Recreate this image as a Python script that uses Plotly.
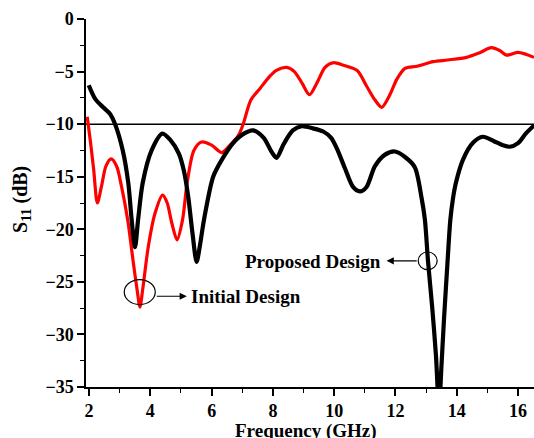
import plotly.graph_objects as go

# ---- data ----
freq_proposed = [1.99, 2.2, 2.46, 2.68, 2.85, 3.1, 3.28, 3.39, 3.5, 3.6, 3.75, 4.04, 4.39, 4.65, 4.93,
                 5.1, 5.24, 5.38, 5.51, 5.62, 5.75, 6.05, 6.33, 6.7, 7.0, 7.36, 7.7, 7.95, 8.12, 8.35,
                 8.65, 8.94, 9.3, 9.64, 9.9, 10.1, 10.35, 10.62, 10.84, 11.05, 11.33, 11.66, 11.98,
                 12.3, 12.63, 12.85, 12.96, 13.06, 13.2, 13.32, 13.42, 13.5, 13.58, 13.7, 13.79,
                 13.88, 13.97, 14.2, 14.52, 14.85, 15.2, 15.5, 15.73, 16.0, 16.25, 16.53]
s11_proposed = [-6.3, -7.6, -8.4, -9.0, -10.0, -12.5, -15.6, -19.1, -21.7, -19.1, -15.6, -12.5, -10.9,
                -11.5, -12.8, -14.5, -17.0, -20.5, -23.1, -21.5, -19.1, -15.0, -13.4, -11.8, -11.0,
                -10.6, -11.3, -12.6, -13.2, -11.9, -10.6, -10.2, -10.4, -10.7, -11.3, -12.4, -14.2,
                -16.0, -16.4, -16.0, -14.0, -12.9, -12.6, -13.1, -14.1, -17.0, -19.1, -23.0, -27.5,
                -32.0, -37.0, -33.0, -28.7, -23.0, -19.1, -17.0, -15.6, -13.4, -11.8, -11.2, -11.6,
                -12.0, -12.15, -11.8, -10.9, -10.1]

freq_initial = [1.94, 2.05, 2.15, 2.27, 2.4, 2.55, 2.72, 2.9, 3.05, 3.26, 3.45, 3.57, 3.66, 3.76, 3.93,
                4.15, 4.4, 4.55, 4.7, 4.87, 5.05, 5.2, 5.42, 5.67, 6.0, 6.33, 6.6, 6.87, 7.03, 7.28,
                7.58, 7.88, 8.1, 8.45, 8.7, 8.95, 9.19, 9.45, 9.7, 9.97, 10.3, 10.75, 11.06, 11.33,
                11.55, 11.8, 12.05, 12.31, 12.7, 13.23, 13.7, 14.32, 14.75, 15.13, 15.4, 15.62, 16.0,
                16.25, 16.52]
s11_initial = [-9.3, -11.8, -14.3, -17.5, -16.0, -14.0, -13.3, -14.0, -15.8, -19.1, -23.3, -25.8, -27.4,
               -25.5, -21.7, -18.5, -16.75, -17.5, -19.4, -21.0, -19.1, -15.6, -12.5, -11.7, -12.0,
               -12.7, -12.0, -11.1, -10.0, -7.7, -6.6, -5.5, -4.9, -4.6, -5.0, -6.1, -7.2, -6.0, -4.6,
               -4.16, -4.4, -4.9, -6.4, -7.7, -8.4, -7.3, -5.7, -4.7, -4.5, -4.06, -3.9, -3.65, -3.2,
               -2.73, -3.0, -3.43, -3.17, -3.35, -3.65]

threshold_db = -10
x_ticks = [2, 4, 6, 8, 10, 12, 14, 16]
y_ticks = [0, -5, -10, -15, -20, -25, -30, -35]

# ---- annotation positions ----
prop_circle = dict(cx=13.05, cy=-23.0, rx=0.31, ry=0.84)
prop_arrow = dict(x_head=11.71, x_tail=12.74, y=-23.0)
prop_text = dict(x=11.6, y=-23.1)
init_circle = dict(cx=3.654, cy=-25.97, rx=0.506, ry=1.19)
init_arrow = dict(x_head=5.19, x_tail=4.16, y=-26.37)
init_text = dict(x=5.26, y=-26.37)

FONT = "Liberation Serif"

fig = go.Figure()
fig.add_trace(go.Scatter(x=freq_initial, y=s11_initial, mode="lines",
                         line=dict(color="#ff0000", width=3.2, shape="spline", smoothing=0.8),
                         name="Initial Design"))
fig.add_trace(go.Scatter(x=freq_proposed, y=s11_proposed, mode="lines",
                         line=dict(color="#000000", width=4.2, shape="spline", smoothing=0.8),
                         name="Proposed Design"))

fig.add_shape(type="line", xref="paper", yref="y", x0=0, x1=1, y0=threshold_db, y1=threshold_db,
              line=dict(color="black", width=1.5), layer="below")

for c in (prop_circle, init_circle):
    fig.add_shape(type="circle", xref="x", yref="y",
                  x0=c["cx"] - c["rx"], x1=c["cx"] + c["rx"],
                  y0=c["cy"] - c["ry"], y1=c["cy"] + c["ry"],
                  line=dict(color="black", width=1.2))

for a in (prop_arrow, init_arrow):
    fig.add_annotation(x=a["x_head"], y=a["y"], ax=a["x_tail"], ay=a["y"],
                       xref="x", yref="y", axref="x", ayref="y", text="",
                       showarrow=True, arrowhead=2, arrowsize=1.2, arrowwidth=1.2,
                       arrowcolor="black")

fig.add_annotation(x=prop_text["x"], y=prop_text["y"], xref="x", yref="y",
                   text="Proposed Design", showarrow=False, xanchor="right", yanchor="middle",
                   font=dict(family=FONT, size=19, color="black", weight="bold"))
fig.add_annotation(x=init_text["x"], y=init_text["y"], xref="x", yref="y",
                   text="Initial Design", showarrow=False, xanchor="left", yanchor="middle",
                   font=dict(family=FONT, size=19, color="black", weight="bold"))

fig.add_annotation(x=-0.143, y=0.511, xref="paper", yref="paper",
                   text="S<sub>11</sub> (dB)", showarrow=False, textangle=-90,
                   xanchor="center", yanchor="middle",
                   font=dict(family=FONT, size=20, color="black", weight="bold"))
fig.add_annotation(x=0.492, y=-0.119, xref="paper", yref="paper",
                   text="Frequency (GHz)", showarrow=False,
                   xanchor="center", yanchor="middle",
                   font=dict(family=FONT, size=19, color="black", weight="bold"))

axis_common = dict(showline=True, linecolor="black", linewidth=1.5, ticks="outside",
                   ticklen=7, tickwidth=1.5, tickcolor="black", showgrid=False, zeroline=False,
                   tickfont=dict(family=FONT, size=18, color="black", weight="bold"))

fig.update_xaxes(range=[1.9, 16.52], tickvals=x_ticks, ticktext=[str(v) for v in x_ticks],
                 minor=dict(dtick=1, ticklen=4, tickwidth=1.2, tickcolor="black", ticks="outside"),
                 **axis_common)
fig.update_yaxes(range=[-35, 0], tickvals=y_ticks,
                 ticktext=[("\u2212" + str(-v)) if v < 0 else str(v) for v in y_ticks],
                 minor=dict(dtick=2.5, ticklen=4, tickwidth=1.2, tickcolor="black", ticks="outside"),
                 **axis_common)

fig.update_layout(width=534, height=438, showlegend=False,
                  margin=dict(l=86, r=0, t=19, b=51, autoexpand=False),
                  plot_bgcolor="white", paper_bgcolor="white")

fig.write_html("out.html")
